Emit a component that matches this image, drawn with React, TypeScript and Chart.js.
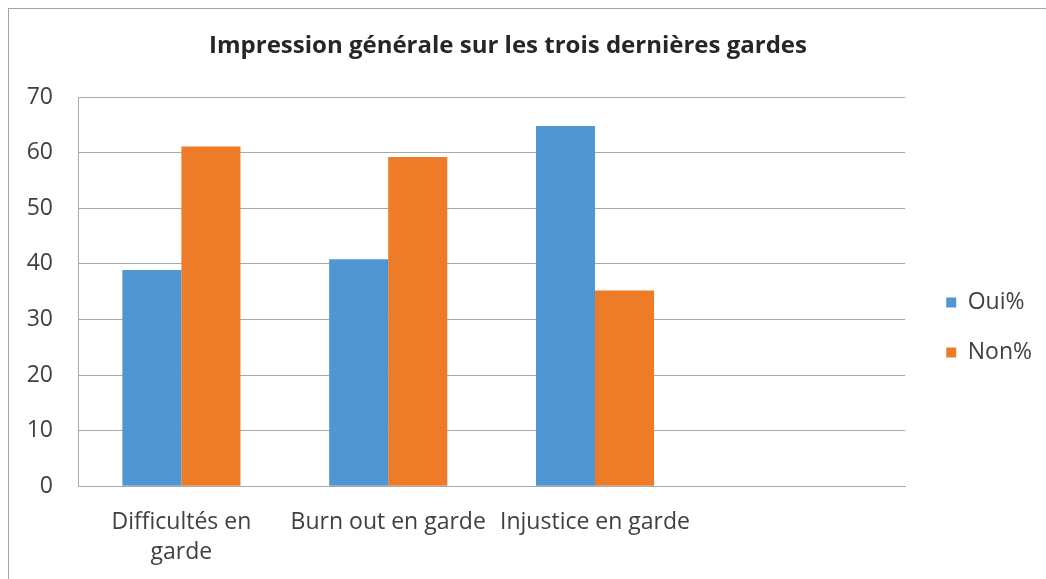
import React, { useEffect, useRef } from 'react';
import { Chart, registerables } from 'chart.js';

Chart.register(...registerables);

const chartTitle = 'Impression générale sur les trois dernières gardes';
const categories: (string | string[])[] = [['Difficultés en', 'garde'], 'Burn out en garde', 'Injustice en garde', ''];
const seriesNames = ['Oui%', 'Non%'];
const ouiValues = [38.9, 40.8, 64.8, null];
const nonValues = [61.1, 59.2, 35.2, null];
const yMin = 0;
const yMax = 70;
const yStep = 10;

const BLUE = '#5096d2';
const ORANGE = '#ee7b28';
const GRID = '#a9a9a9';
const TEXT = '#404040';
const FONT = "'Open Sans', 'DejaVu Sans', sans-serif";

const CANVAS_LEFT = -26;
const CANVAS_W = 1072;
const CANVAS_H = 588;

export default function App() {
  const canvasRef = useRef<HTMLCanvasElement | null>(null);

  useEffect(() => {
    const canvas = canvasRef.current;
    if (!canvas) return;
    const chart = new Chart(canvas, {
      type: 'bar',
      data: {
        labels: categories,
        datasets: [
          {
            label: seriesNames[0],
            data: ouiValues,
            backgroundColor: BLUE,
            borderWidth: 0,
            barPercentage: 1,
            categoryPercentage: 0.571,
          },
          {
            label: seriesNames[1],
            data: nonValues,
            backgroundColor: ORANGE,
            borderWidth: 0,
            barPercentage: 1,
            categoryPercentage: 0.571,
          },
        ],
      },
      options: {
        responsive: false,
        animation: false,
        devicePixelRatio: 1,
        layout: { padding: { left: 0, right: 4, top: 0, bottom: 0 } },
        scales: {
          x: {
            grid: { display: false, drawTicks: false },
            border: { display: true, color: GRID, width: 1 },
            ticks: {
              color: TEXT,
              font: { family: FONT, size: 23, lineHeight: 1.3 },
              padding: 21,
              autoSkip: false,
              maxRotation: 0,
              minRotation: 0,
            },
          },
          y: {
            min: yMin,
            max: yMax,
            grid: { color: GRID, lineWidth: 1, drawTicks: false },
            border: { display: true, color: GRID, width: 1 },
            ticks: {
              stepSize: yStep,
              color: TEXT,
              font: { family: FONT, size: 23 },
              padding: 25,
            },
            afterFit: (scale: any) => {
              scale.width = 78 - CANVAS_LEFT;
            },
          },
          ySpacer: {
            type: 'linear',
            position: 'right',
            display: true,
            grid: { display: false, drawTicks: false },
            border: { display: false },
            ticks: { display: false },
            afterFit: (scale: any) => {
              scale.width = 14;
            },
          },
        },
        plugins: {
          title: {
            display: true,
            text: chartTitle,
            color: '#262626',
            font: { family: FONT, size: 24, weight: 'bold', lineHeight: 1.2 },
            padding: { top: 31.6, bottom: 36.6 },
          },
          legend: {
            display: true,
            position: 'right',
            align: 'center',
            title: {
              display: true,
              text: '',
              font: { size: 1, lineHeight: 1 },
              padding: { top: 66, bottom: 0 },
            },
            labels: {
              boxWidth: 10,
              boxHeight: 10,
              padding: 27,
              color: TEXT,
              font: { family: FONT, size: 23 },
            },
          },
          tooltip: { enabled: false },
        },
      } as any,
    });
    return () => chart.destroy();
  }, []);

  return (
    <div
      style={{
        position: 'fixed',
        left: 0,
        top: 0,
        width: 1046,
        height: 579,
        overflow: 'hidden',
        background: '#ffffff',
      }}
    >
      <div
        style={{
          position: 'absolute',
          left: 8,
          top: 8,
          width: 2000,
          height: 2000,
          borderLeft: '1px solid #a3a3a3',
          borderTop: '1px solid #a3a3a3',
        }}
      />
      <canvas
        ref={canvasRef}
        width={CANVAS_W}
        height={CANVAS_H}
        style={{ position: 'absolute', left: CANVAS_LEFT, top: 0, width: CANVAS_W, height: CANVAS_H }}
      />
    </div>
  );
}
